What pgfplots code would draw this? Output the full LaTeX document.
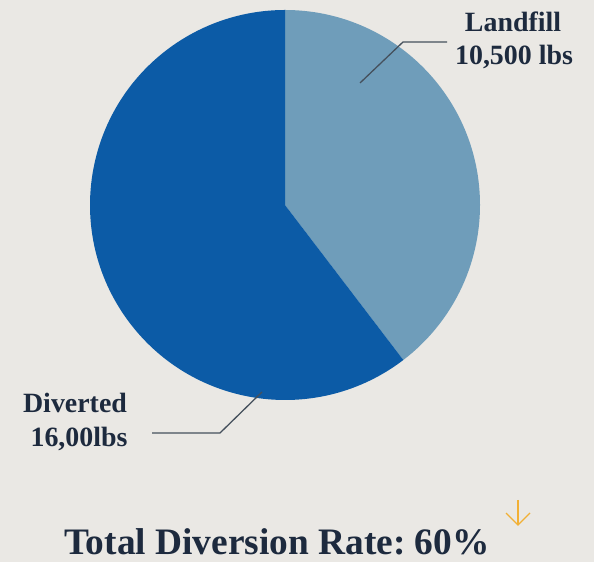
\documentclass[border=0pt]{standalone}
\usepackage{pgfplots}
\pgfplotsset{compat=1.18}
\usepackage{fontspec}
\setmainfont{Liberation Serif}
\frenchspacing
\definecolor{bg}{HTML}{EAE8E4}
\definecolor{dark}{HTML}{0C5BA6}
\definecolor{light}{HTML}{6F9DBA}
\definecolor{txt}{HTML}{1D2A3E}
\definecolor{lead}{HTML}{45505C}
\definecolor{arr}{HTML}{F2B035}
\begin{document}
\begin{tikzpicture}
\begin{axis}[
  x=1bp, y=1bp, scale only axis,
  xmin=0, xmax=594, ymin=0, ymax=562,
  hide axis, clip=false,
]
% data (lbs)
\def\landfill{10500}
\def\diverted{16000}
\pgfmathsetmacro{\aend}{90-360*(\landfill/1000)/(\landfill/1000+\diverted/1000)}
\fill[bg] (axis cs:0,0) rectangle (axis cs:594,562);
% pie
\fill[light] (axis cs:285,357) -- (axis cs:285,552) arc[start angle=90, end angle=\aend, radius=195bp] -- cycle;
\fill[dark] (axis cs:285,357) -- ++(\aend:195bp) arc[start angle=\aend, end angle=-270, radius=195bp] -- cycle;
% leaders
\draw[lead, line width=1.3pt] (axis cs:360,479) -- (axis cs:403,520) -- (axis cs:447,520);
\draw[lead, line width=1.3pt] (axis cs:152,129) -- (axis cs:220,129) -- (axis cs:262,170);
% labels
\node[anchor=base, font=\fontsize{28}{32}\selectfont\bfseries, text=txt, inner sep=0] at (axis cs:513,530) {Landfill};
\node[anchor=base, font=\fontsize{28}{32}\selectfont\bfseries, text=txt, inner sep=0] at (axis cs:514,497) {10,500 lbs};
\node[anchor=base, font=\fontsize{28}{32}\selectfont\bfseries, text=txt, inner sep=0] at (axis cs:75,149) {Diverted};
\node[anchor=base, font=\fontsize{28}{32}\selectfont\bfseries, text=txt, inner sep=0] at (axis cs:79,115) {16,00lbs};
\node[anchor=base, font=\fontsize{37.5}{42}\selectfont\bfseries, text=txt, inner sep=0] at (axis cs:277,7) {Total Diversion Rate: 60\%};
% arrow
\draw[arr, line width=1.2pt] (axis cs:518,62) -- (axis cs:518,37);
\draw[arr, line width=1.2pt] (axis cs:506,49) -- (axis cs:518,37) -- (axis cs:530,49);
\end{axis}
\end{tikzpicture}
\end{document}
